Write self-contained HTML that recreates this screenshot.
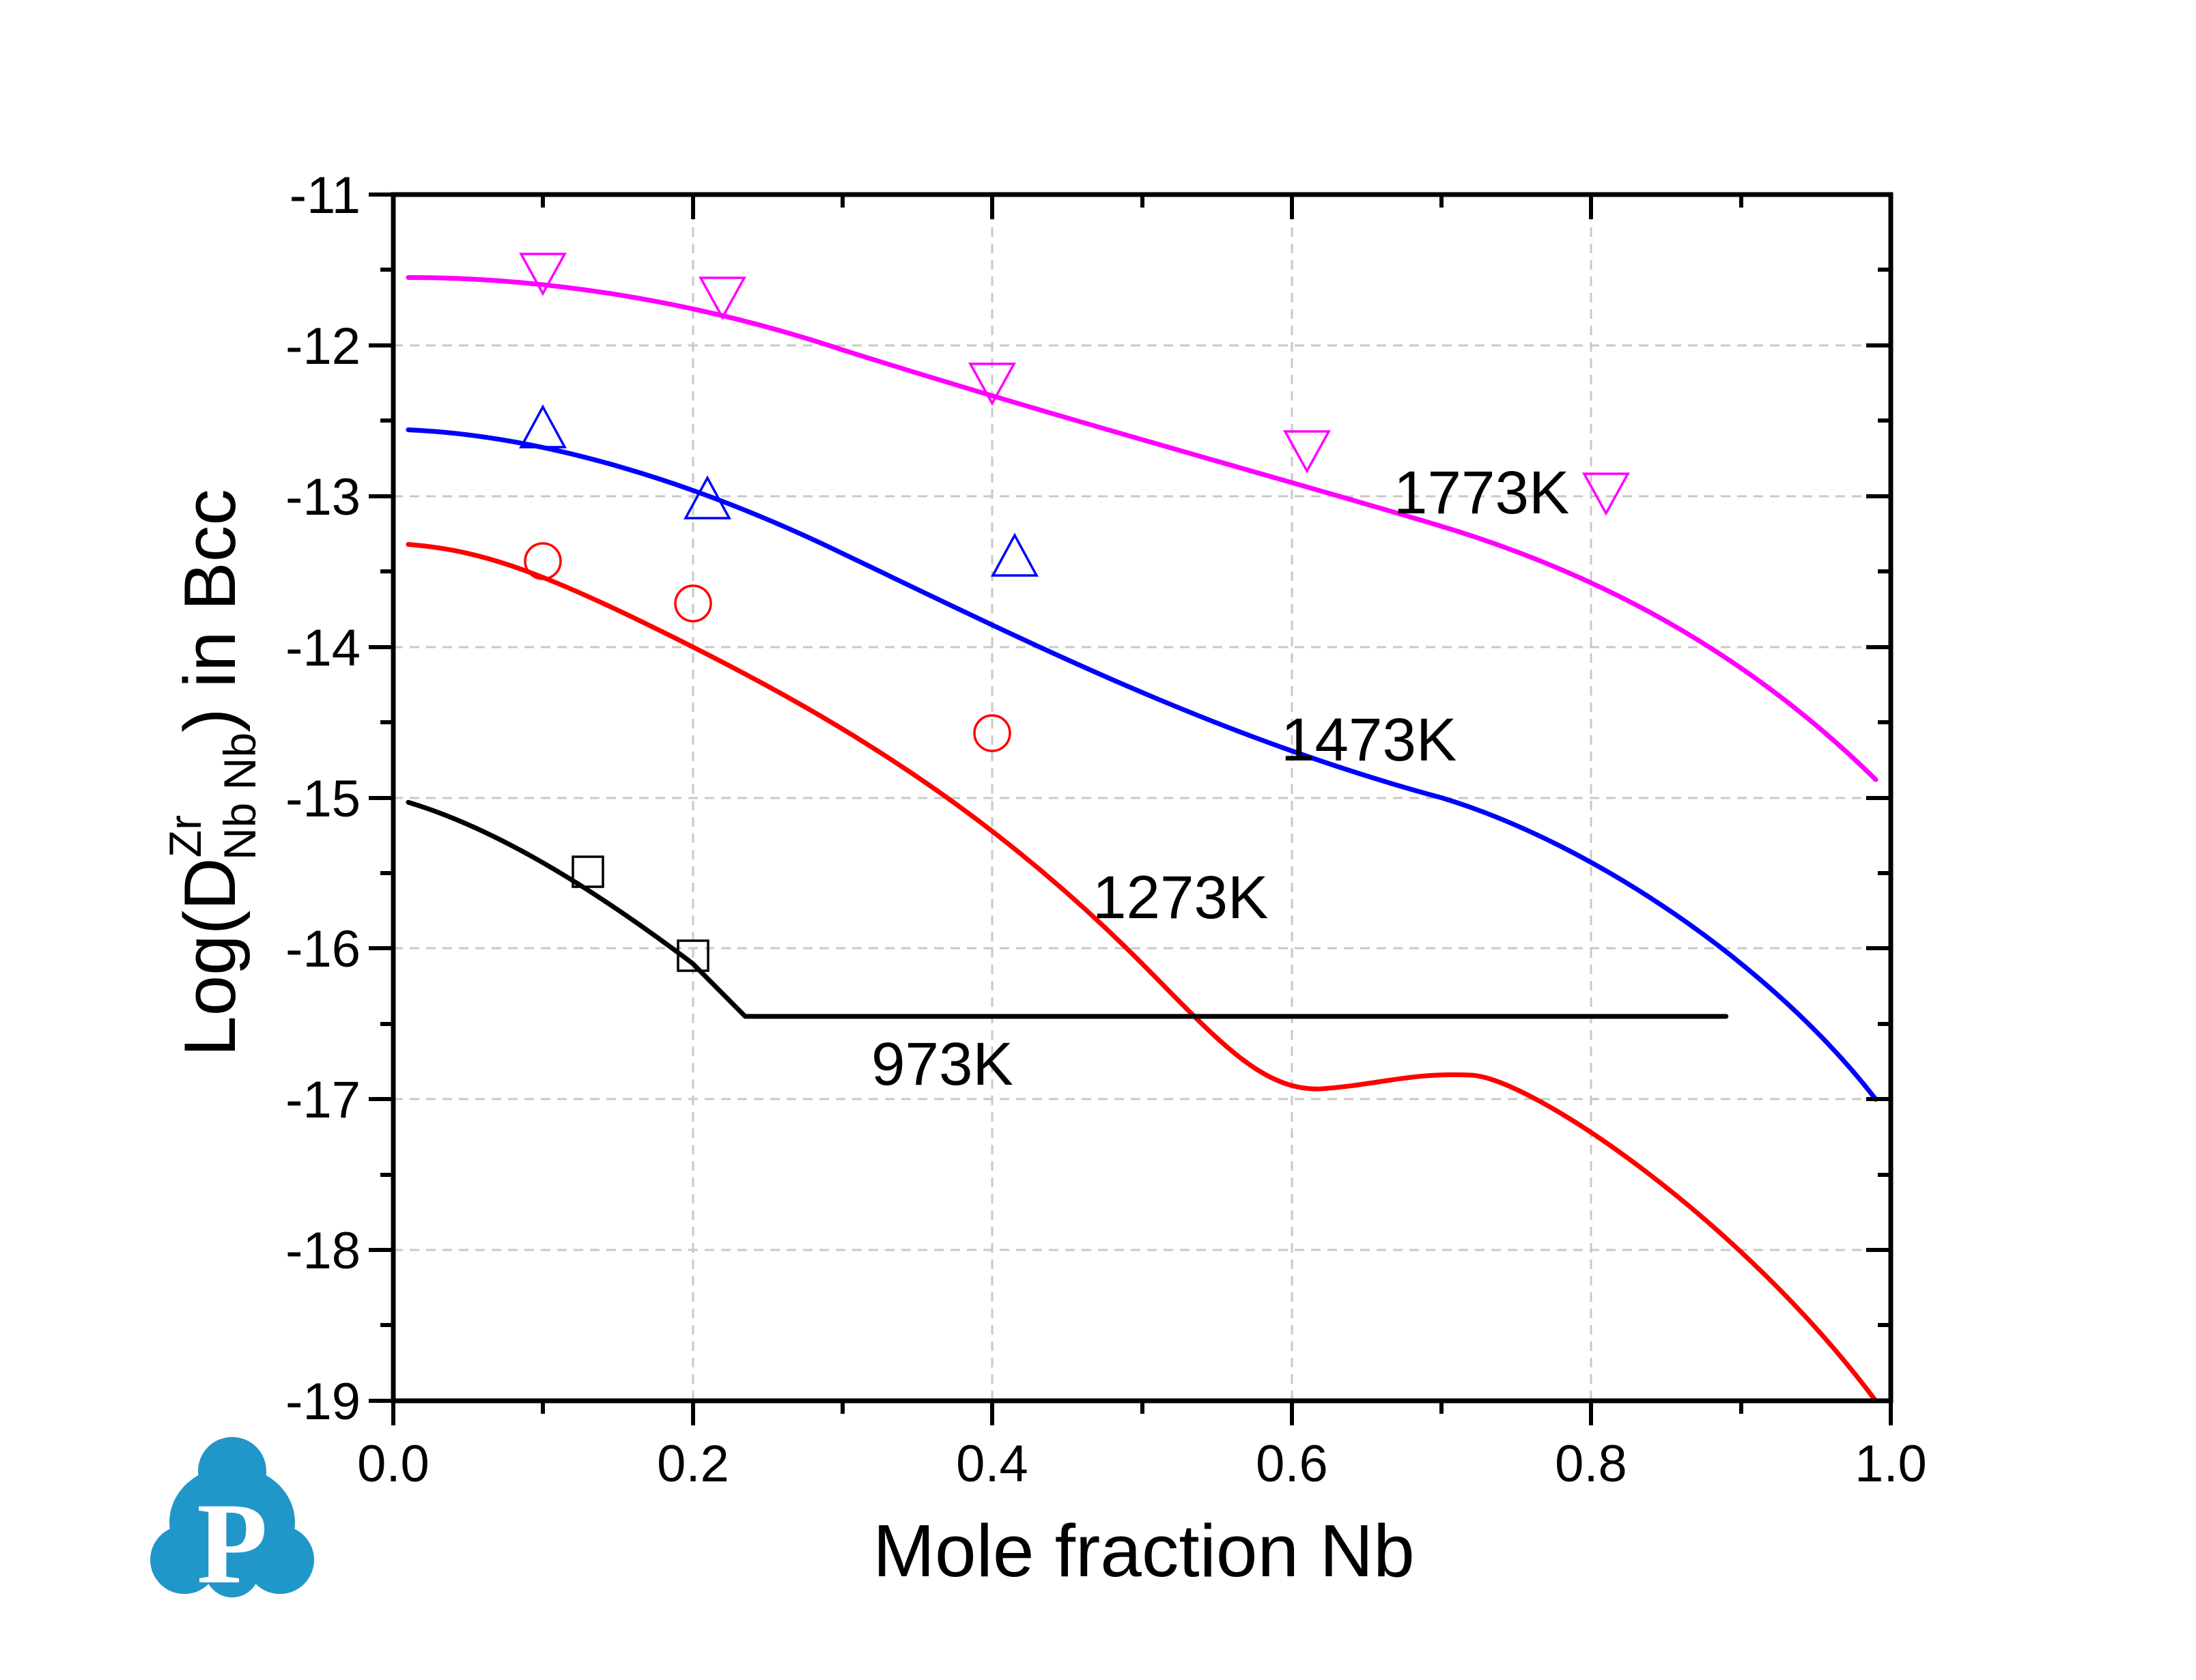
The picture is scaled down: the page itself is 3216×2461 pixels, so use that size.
<!DOCTYPE html>
<html><head><meta charset="utf-8"><style>
html,body{margin:0;padding:0;background:#fff;}
svg{display:block;font-family:"Liberation Sans",Arial,sans-serif;}
</style></head><body>
<svg width="3216" height="2461" viewBox="0 0 3216 2461" xmlns="http://www.w3.org/2000/svg">
<rect width="3216" height="2461" fill="#fff"/>
<!-- grid -->
<g stroke="#c8c8c8" stroke-width="3" stroke-dasharray="14,10">
<line x1="576" x2="2769" y1="506" y2="506"/><line x1="576" x2="2769" y1="727" y2="727"/>
<line x1="576" x2="2769" y1="948" y2="948"/><line x1="576" x2="2769" y1="1169" y2="1169"/>
<line x1="576" x2="2769" y1="1389" y2="1389"/><line x1="576" x2="2769" y1="1610" y2="1610"/>
<line x1="576" x2="2769" y1="1831" y2="1831"/>
<line y1="285" y2="2052" x1="1015" x2="1015"/><line y1="285" y2="2052" x1="1453" x2="1453"/>
<line y1="285" y2="2052" x1="1892" x2="1892"/><line y1="285" y2="2052" x1="2330" x2="2330"/>
</g>
<!-- curves -->
<g fill="none" stroke-width="7" stroke-linejoin="round" stroke-linecap="round" transform="translate(576,285) scale(2193,-220.9) translate(0,11)">
<path vector-effect="non-scaling-stroke" stroke="#ff00ff" d="M0.01,-11.55 C0.1,-11.55 0.2,-11.7 0.3,-12.03 C0.45,-12.5 0.6,-12.9 0.7,-13.2 C0.8,-13.5 0.9,-14.0 0.99,-14.88"/>
<path vector-effect="non-scaling-stroke" stroke="#0000ff" d="M0.01,-12.56 C0.1,-12.6 0.2,-12.9 0.3,-13.38 C0.42,-13.95 0.55,-14.6 0.7,-15.0 C0.8,-15.3 0.92,-16.1 0.99,-17.0"/>
<path vector-effect="non-scaling-stroke" stroke="#ff0000" d="M0.01,-13.32 C0.06,-13.36 0.1,-13.5 0.2,-14.0 C0.3,-14.5 0.4,-15.1 0.5,-16.1 C0.55,-16.6 0.58,-16.95 0.62,-16.93 C0.66,-16.9 0.68,-16.82 0.72,-16.84 C0.76,-16.86 0.9,-17.8 0.99,-19.0"/>
<path vector-effect="non-scaling-stroke" stroke="#000" d="M0.01,-15.03 C0.06,-15.18 0.12,-15.5 0.2,-16.1 L0.235,-16.45 L0.89,-16.45"/>
</g>
<!-- markers -->
<g fill="none" stroke-width="3.5">
<g stroke="#ff00ff">
<polygon points="763,372 827,372 795,430"/><polygon points="1026,407 1090,407 1058,465"/>
<polygon points="1421,533 1485,533 1453,591"/><polygon points="1882,632 1946,632 1914,690"/>
<polygon points="2320,694 2384,694 2352,752"/></g>
<g stroke="#0000ff">
<polygon points="795,596 763,655 827,655"/><polygon points="1036,700 1004,759 1068,759"/>
<polygon points="1486,784 1454,843 1518,843"/></g>
<g stroke="#ff0000"><circle cx="795" cy="822" r="26"/><circle cx="1015" cy="884" r="26"/><circle cx="1453" cy="1074" r="26"/></g>
<g stroke="#000"><rect x="839" y="1255" width="44" height="44"/><rect x="993" y="1378" width="44" height="44"/></g>
</g>
<!-- axes -->
<g stroke="#000" stroke-width="7" fill="none">
<rect x="576" y="285" width="2193" height="1767"/>
<g stroke-width="6">
<line x1="540" x2="576" y1="285" y2="285"/><line x1="540" x2="576" y1="506" y2="506"/><line x1="540" x2="576" y1="727" y2="727"/><line x1="540" x2="576" y1="948" y2="948"/><line x1="540" x2="576" y1="1169" y2="1169"/><line x1="540" x2="576" y1="1389" y2="1389"/><line x1="540" x2="576" y1="1610" y2="1610"/><line x1="540" x2="576" y1="1831" y2="1831"/><line x1="540" x2="576" y1="2052" y2="2052"/>
<line x1="557" x2="576" y1="395" y2="395"/><line x1="557" x2="576" y1="616" y2="616"/><line x1="557" x2="576" y1="837" y2="837"/><line x1="557" x2="576" y1="1058" y2="1058"/><line x1="557" x2="576" y1="1279" y2="1279"/><line x1="557" x2="576" y1="1500" y2="1500"/><line x1="557" x2="576" y1="1721" y2="1721"/><line x1="557" x2="576" y1="1941" y2="1941"/>
<line x1="2769" x2="2750" y1="395" y2="395"/><line x1="2769" x2="2750" y1="616" y2="616"/><line x1="2769" x2="2750" y1="837" y2="837"/><line x1="2769" x2="2750" y1="1058" y2="1058"/><line x1="2769" x2="2750" y1="1279" y2="1279"/><line x1="2769" x2="2750" y1="1500" y2="1500"/><line x1="2769" x2="2750" y1="1721" y2="1721"/><line x1="2769" x2="2750" y1="1941" y2="1941"/>
<line x1="2769" x2="2733" y1="506" y2="506"/><line x1="2769" x2="2733" y1="727" y2="727"/><line x1="2769" x2="2733" y1="948" y2="948"/><line x1="2769" x2="2733" y1="1169" y2="1169"/><line x1="2769" x2="2733" y1="1389" y2="1389"/><line x1="2769" x2="2733" y1="1610" y2="1610"/><line x1="2769" x2="2733" y1="1831" y2="1831"/>
<line y1="2052" y2="2088" x1="576" x2="576"/><line y1="2052" y2="2088" x1="1015" x2="1015"/><line y1="2052" y2="2088" x1="1453" x2="1453"/><line y1="2052" y2="2088" x1="1892" x2="1892"/><line y1="2052" y2="2088" x1="2330" x2="2330"/><line y1="2052" y2="2088" x1="2769" x2="2769"/>
<line y1="2052" y2="2071" x1="795" x2="795"/><line y1="2052" y2="2071" x1="1234" x2="1234"/><line y1="2052" y2="2071" x1="1673" x2="1673"/><line y1="2052" y2="2071" x1="2111" x2="2111"/><line y1="2052" y2="2071" x1="2550" x2="2550"/>
<line y1="285" y2="304" x1="795" x2="795"/><line y1="285" y2="304" x1="1234" x2="1234"/><line y1="285" y2="304" x1="1673" x2="1673"/><line y1="285" y2="304" x1="2111" x2="2111"/><line y1="285" y2="304" x1="2550" x2="2550"/>
<line y1="285" y2="321" x1="1015" x2="1015"/><line y1="285" y2="321" x1="1453" x2="1453"/><line y1="285" y2="321" x1="1892" x2="1892"/><line y1="285" y2="321" x1="2330" x2="2330"/>
</g></g>
<!-- tick labels -->
<g font-size="76" fill="#000" text-anchor="end">
<text x="528" y="312">-11</text><text x="528" y="533">-12</text><text x="528" y="754">-13</text><text x="528" y="975">-14</text><text x="528" y="1196">-15</text><text x="528" y="1416">-16</text><text x="528" y="1637">-17</text><text x="528" y="1858">-18</text><text x="528" y="2079">-19</text>
</g>
<g font-size="76" fill="#000" text-anchor="middle">
<text x="576" y="2170">0.0</text><text x="1015" y="2170">0.2</text><text x="1453" y="2170">0.4</text><text x="1892" y="2170">0.6</text><text x="2330" y="2170">0.8</text><text x="2769" y="2170">1.0</text>
</g>
<text x="1675" y="2309" font-size="109" text-anchor="middle">Mole fraction Nb</text>
<text transform="translate(344,1132) rotate(-90)" font-size="107" text-anchor="middle">Log(D<tspan font-size="66" dy="-50">Zr</tspan><tspan font-size="66" dx="-66" dy="80">Nb Nb</tspan><tspan dy="-30">) in Bcc</tspan></text>
<!-- curve labels -->
<g font-size="89" fill="#000">
<text x="2041" y="752">1773K</text><text x="1876" y="1114">1473K</text><text x="1600" y="1345">1273K</text><text x="1276" y="1589">973K</text>
</g>
<!-- logo -->
<g fill="#2196c8">
<circle cx="340" cy="2155" r="50"/><ellipse cx="340" cy="2230" rx="92" ry="82"/>
<circle cx="270" cy="2285" r="50"/><circle cx="410" cy="2285" r="50"/><circle cx="340" cy="2300" r="40"/>
</g>
<text x="340" y="2318" font-family="Liberation Serif,serif" font-weight="bold" font-size="170" fill="#fff" text-anchor="middle">P</text>
</svg>
</body></html>
